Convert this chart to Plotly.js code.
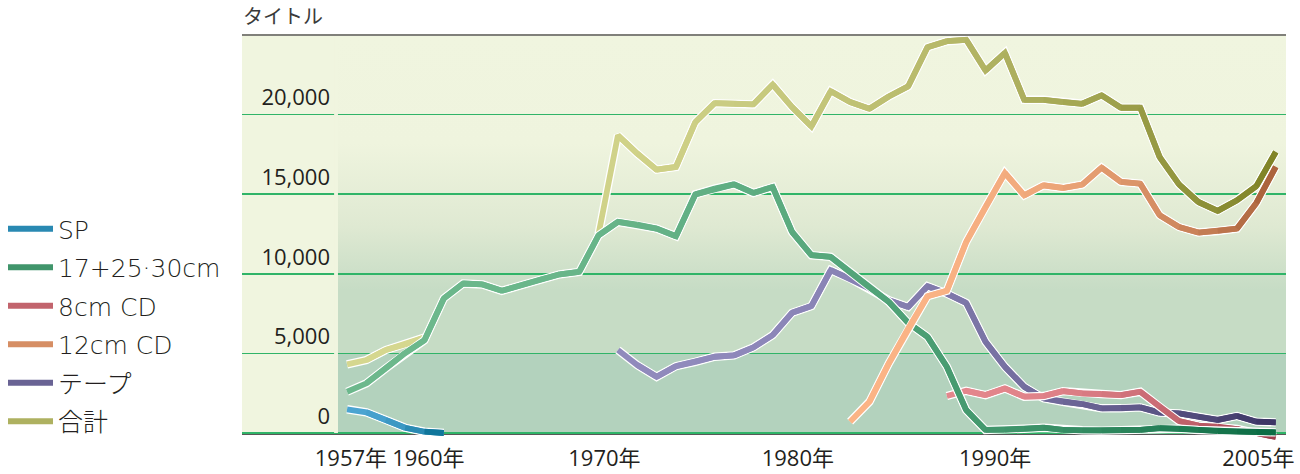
<!DOCTYPE html>
<html><head><meta charset="utf-8">
<script src="https://cdn.plot.ly/plotly-3.0.1.min.js"></script>
<style>html,body{margin:0;padding:0;background:#fff}#chart{width:1300px;height:474px}</style>
</head><body><div id="chart"></div>
<script>
// ---- data ----
const years = [];
for (let y = 1957; y <= 2005; y++) years.push(y);

const seriesNames = ['SP', '17+25·30cm', '8cm CD', '12cm CD', 'テープ', '合計'];

const sp = [1490,1300,820,330,80,0,
  null,null,null,null,null,null,null,null,null,null,null,null,null,null,null,null,null,null,null,null,
  null,null,null,null,null,null,null,null,null,null,null,null,null,null,null,null,null,null,null,null,null,null,null];

const lp = [2590,3120,4060,5020,5830,8450,9390,9330,8930,9280,9640,9970,10120,
  12420,13260,13090,12840,12360,14990,15350,15620,15080,15450,
  12630,11170,11060,10120,9140,8240,6920,6040,4160,1440,
  190,190,270,330,190,170,150,190,190,310,270,190,120,100,60,40];

const cd8 = [null,null,null,null,null,null,null,null,null,null,null,null,null,
  null,null,null,null,null,null,null,null,null,null,
  null,null,null,null,null,null,null,null,
  2320,2650,2380,2800,2280,2320,2630,2490,2450,2380,2590,1650,750,460,400,250,0,-250];

const cd12 = [null,null,null,null,null,null,null,null,null,null,null,null,null,
  null,null,null,null,null,null,null,null,null,null,null,null,null,
  710,1960,4370,6570,8590,8930,12000,14200,16330,14930,15560,15390,15600,16670,15770,15660,
  13680,12940,12590,12690,12840,14450,16710];

const tape = [null,null,null,null,null,null,null,null,null,null,null,null,null,null,
  5210,4270,3530,4200,4470,4790,4870,5380,6150,7550,7970,10230,9700,9080,8340,7920,9220,8760,8170,
  5730,4160,2900,2180,1960,1820,1550,1550,1610,1280,1230,1020,820,1070,710,670];

const total = [4310,4580,5210,5560,6000,null,null,null,null,null,null,null,null,
  12500,18700,17550,16540,16710,19530,20720,20680,20640,21890,20470,19260,21470,20790,20370,21140,21770,
  24230,24610,24700,22770,23880,20930,20930,20790,20680,21210,20430,20430,17330,15620,14510,13950,14620,15510,17650];

const xTickVals = [1957.2, 1961.2, 1970.3, 1980.3, 1990.5, 2004.1];
const xTickText = ['1957年', '1960年', '1970年', '1980年', '1990年', '2005年'];
const yTickVals = [0, 5000, 10000, 15000, 20000];
const yTickText = ['0', '5,000', '10,000', '15,000', '20,000'];

// ---- styling ----
const seriesValues = [sp, lp, cd8, cd12, tape, total];
const gradients = [
  ['#4ba4d1', '#00698c'],
  ['#6cb88c', '#0a6b43'],
  ['#e3868c', '#9a3a48'],
  ['#fbb486', '#a8603a'],
  ['#908abc', '#3a3363'],
  ['#d5d78f', '#7f8226']
];
const drawOrder = [5, 4, 2, 1, 3, 0];
const LW = 5.8, OW = 8.4;
const xmin = 1951.57, xmax = 2005.53;

function hex2rgb(h){ return [1,3,5].map(i => parseInt(h.substr(i,2),16)); }
function mix(a, b, t){
  const A = hex2rgb(a), B = hex2rgb(b);
  return 'rgb(' + A.map((v,i) => Math.round(v + (B[i]-v)*t)).join(',') + ')';
}
function ease(t){ return Math.pow(t, 2.3); }

const traces = [];
// legend entries (in legend order)
seriesNames.forEach((name, s) => {
  traces.push({
    x: [null], y: [null], type: 'scatter', mode: 'lines', name: name,
    legendgroup: 'g' + s, showlegend: true, hoverinfo: 'skip',
    line: {color: mix(gradients[s][0], gradients[s][1], 0.45), width: LW}
  });
});

drawOrder.forEach(s => {
  const vals = seriesValues[s];
  const idx = vals.map((v,i) => v === null ? -1 : i).filter(i => i >= 0);
  const first = idx[0], last = idx[idx.length-1];
  const runs = [];
  let cur = [];
  vals.forEach((v,i) => {
    if (v === null) { if (cur.length) runs.push(cur); cur = []; }
    else cur.push(i);
  });
  if (cur.length) runs.push(cur);
  runs.forEach(run => {
    traces.push({
      x: run.map(i => years[i]), y: run.map(i => vals[i]),
      type: 'scatter', mode: 'lines', showlegend: false, hoverinfo: 'skip',
      legendgroup: 'g' + s, line: {color: '#ffffff', width: OW}
    });
    for (let k = 0; k < run.length - 1; k++) {
      const pts = run.slice(k, Math.min(k + 3, run.length));
      const tm = ((years[run[k]] + years[run[k+1]]) / 2 - years[first]) / (years[last] - years[first]);
      traces.push({
        x: pts.map(i => years[i]), y: pts.map(i => vals[i]),
        type: 'scatter', mode: 'lines', showlegend: false, hoverinfo: 'skip',
        legendgroup: 'g' + s,
        line: {color: mix(gradients[s][0], gradients[s][1], ease(tm)), width: LW}
      });
    }
  });
});

// background as svg gradient image
const stripFrac = (1956.53 - xmin) / (xmax - xmin);
const bgSvg = '<svg xmlns="http://www.w3.org/2000/svg" width="1000" height="1000" viewBox="0 0 1000 1000" preserveAspectRatio="none">' +
  '<defs><linearGradient id="g" x1="0" y1="0" x2="0" y2="1">' +
  '<stop offset="0" stop-color="#f0f5df"/>' +
  '<stop offset="0.34" stop-color="#eff4de"/>' +
  '<stop offset="0.6" stop-color="#dfe9d2"/>' +
  '<stop offset="0.8" stop-color="#c6dcc5"/>' +
  '</linearGradient></defs>' +
  '<rect x="0" y="0" width="1000" height="800" fill="url(#g)"/>' +
  '<rect x="0" y="800" width="1000" height="200" fill="#b3d2bd"/>' +
  '<rect x="0" y="0" width="' + (stripFrac*1000) + '" height="1000" fill="#f0f5df"/>' +
  '</svg>';

const layout = {
  width: 1300, height: 474,
  margin: {l: 242, r: 14, t: 35, b: 34},
  paper_bgcolor: '#ffffff', plot_bgcolor: '#ffffff',
  showlegend: true,
  title: {text: 'タイトル', xref: 'container', x: 243/1300, xanchor: 'left',
          yref: 'container', y: 1 - 17/474, yanchor: 'middle',
          font: {family: 'Noto Sans CJK JP', size: 20, color: '#3a3a3a'}},
  xaxis: {range: [xmin, xmax], tickmode: 'array', tickvals: xTickVals, ticktext: xTickText,
          showgrid: false, zeroline: false, showline: false, ticks: '', ticklabelstandoff: 3,
          tickfont: {family: 'Open Sans, Noto Sans CJK JP', size: 22, color: '#231f20'},
          fixedrange: true},
  yaxis: {range: [-440, 25000], tickmode: 'array', tickvals: yTickVals, ticktext: yTickText,
          showgrid: true, gridcolor: '#30b468', gridwidth: 1.5, zeroline: false, showline: false,
          ticks: '', anchor: 'free', position: 88/1044, side: 'left', ticklabelshift: -17,
          tickfont: {family: 'Open Sans, Noto Sans CJK JP', size: 22, color: '#231f20'},
          fixedrange: true},
  legend: {xref: 'container', yref: 'container', x: 3/1300, y: 1 - 206/474, xanchor: 'left', yanchor: 'top',
           font: {family: 'DejaVu Sans, Noto Sans CJK JP', size: 25, color: '#231f20', weight: 200},
           bgcolor: 'rgba(0,0,0,0)', traceorder: 'grouped', tracegroupgap: 3, itemwidth: 45},
  images: [{source: 'data:image/svg+xml;charset=utf-8,' + encodeURIComponent(bgSvg),
            xref: 'x', yref: 'y', x: xmin, y: 25000, sizex: xmax - xmin, sizey: 25000,
            xanchor: 'left', yanchor: 'top', sizing: 'stretch', layer: 'below'}],
  shapes: [
    {type: 'rect', xref: 'x', yref: 'y', x0: 1956.33, x1: 1956.53, y0: 0, y1: 25000,
     fillcolor: '#f0f5df', line: {width: 0}, layer: 'between'},
    {type: 'line', xref: 'paper', yref: 'y', x0: 0, x1: 1, y0: 0, y1: 0,
     line: {color: '#231f20', width: 3.5}, layer: 'between'},
    {type: 'line', xref: 'paper', yref: 'paper', x0: 0, x1: 1, y0: 1, y1: 1,
     line: {color: '#80807a', width: 2}, layer: 'above'}
  ]
};

Plotly.newPlot('chart', traces, layout, {displayModeBar: false, staticPlot: true});
</script>
</body></html>
